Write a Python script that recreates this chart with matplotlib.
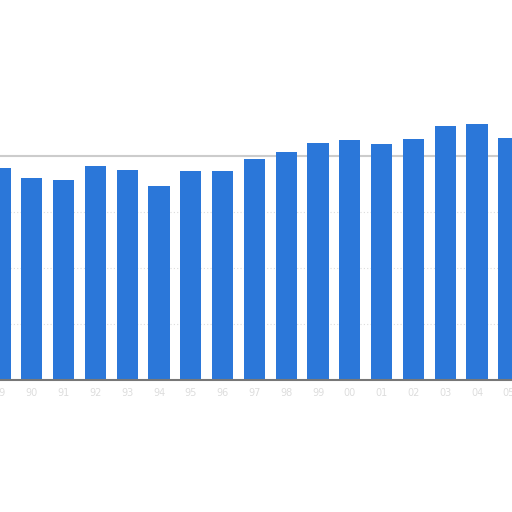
import matplotlib
matplotlib.use("Agg")
import matplotlib.pyplot as plt
import numpy as np

labels = ["89", "90", "91", "92", "93", "94", "95", "96", "97", "98",
          "99", "00", "01", "02", "03", "04", "05"]
values = [3.78, 3.60, 3.58, 3.83, 3.75, 3.47, 3.73, 3.73, 3.95, 4.08,
          4.23, 4.29, 4.21, 4.30, 4.54, 4.58, 4.32]

fig = plt.figure(figsize=(5.12, 5.12), dpi=100)
ax = fig.add_axes([0, 0.2578, 1, 0.5469])

x = np.arange(len(values))
ax.bar(x, values, width=0.67, color="#2b77d9", zorder=2)

ax.set_xlim(0.156, 16.1)
ax.set_ylim(0, 5)
ax.set_yticks([1, 2, 3])
ax.yaxis.grid(True, linestyle=(0, (1, 2)), color="#dddddd", linewidth=0.8, zorder=0)
ax.axhline(4, color="#cccccc", linewidth=1.5, zorder=1)
ax.tick_params(axis="y", left=False, labelleft=False)

ax.set_xticks(x)
ax.set_xticklabels(labels, fontsize=7, color="#dddddd")
ax.tick_params(axis="x", length=0, pad=6)

for s in ["top", "left", "right"]:
    ax.spines[s].set_visible(False)
ax.spines["bottom"].set_color("#777777")
ax.spines["bottom"].set_linewidth(1.5)

fig.savefig("out.png", dpi=100)
